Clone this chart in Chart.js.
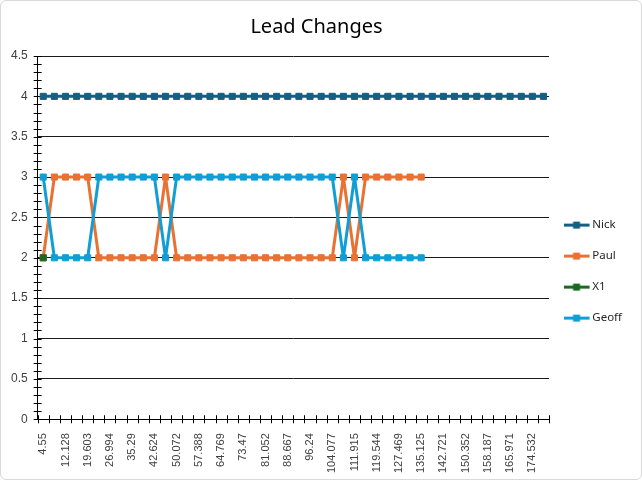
<!DOCTYPE html>
<html>
<head>
<meta charset="utf-8">
<script src="https://cdn.jsdelivr.net/npm/chart.js@4.4.1/dist/chart.umd.min.js"></script>
<style>
html, body { margin: 0; padding: 0; background: #fff; }
#wrap { position: relative; width: 642px; height: 480px; box-sizing: border-box; border: 1px solid #d9d9d9; border-radius: 6px; overflow: hidden; }
</style>
</head>
<body>
<div id="wrap"><canvas id="myChart"></canvas></div>
<script>
// category labels (odd ones are hidden on the axis)
const xLabels = ['4.55', '8.312', '12.128', '15.871', '19.603', '23.301', '26.994', '31.152', '35.29', '38.957',
  '42.624', '46.348', '50.072', '53.73', '57.388', '61.078', '64.769', '69.119', '73.47', '77.261',
  '81.052', '84.859', '88.667', '92.453', '96.24', '100.158', '104.077', '107.996', '111.915', '115.729',
  '119.544', '123.506', '127.469', '131.297', '135.125', '138.923', '142.721', '146.536', '150.352', '154.269',
  '158.187', '162.079', '165.971', '170.251', '174.532', '178.81'];

const nick = [4, 4, 4, 4, 4, 4, 4, 4, 4, 4, 4, 4, 4, 4, 4, 4, 4, 4, 4, 4, 4, 4, 4,
  4, 4, 4, 4, 4, 4, 4, 4, 4, 4, 4, 4, 4, 4, 4, 4, 4, 4, 4, 4, 4, 4, 4];
const paul = [2, 3, 3, 3, 3, 2, 2, 2, 2, 2, 2, 3, 2, 2, 2, 2, 2, 2, 2, 2, 2, 2, 2,
  2, 2, 2, 2, 3, 2, 3, 3, 3, 3, 3, 3];
const x1 = [2];
const geoff = [3, 2, 2, 2, 2, 3, 3, 3, 3, 3, 3, 2, 3, 3, 3, 3, 3, 3, 3, 3, 3, 3, 3,
  3, 3, 3, 3, 2, 3, 2, 2, 2, 2, 2, 2];

const seriesNames = ['Nick', 'Paul', 'X1', 'Geoff'];
const colors = ['#156082', '#E97132', '#196B24', '#0F9ED5'];

function legendIcon(color) {
  const c = document.createElement('canvas');
  c.width = 28; c.height = 9;
  const g = c.getContext('2d');
  g.fillStyle = color;
  g.fillRect(0, 3, 26, 3);
  g.fillRect(9.5, 1, 7, 7);
  return c;
}

// minor tick marks crossing the axes, like Excel
const axisTicks = {
  id: 'axisTicks',
  beforeDatasetsDraw(chart) {
    const {ctx, chartArea, scales: {y}} = chart;
    ctx.save();
    ctx.strokeStyle = '#000';
    ctx.lineWidth = 1;
    ctx.beginPath();
    for (let v = 0; v <= 45; v++) {
      const py = Math.round(y.getPixelForValue(v / 10)) + 0.5;
      ctx.moveTo(chartArea.left - 4, py);
      ctx.lineTo(chartArea.left + 4, py);
    }
    const n = xLabels.length;
    const step = (chartArea.right - chartArea.left) / n;
    for (let i = 0; i <= n; i++) {
      const px = Math.round(chartArea.left + i * step) + 0.5;
      ctx.moveTo(px, chartArea.bottom - 4);
      ctx.lineTo(px, chartArea.bottom + 4);
    }
    ctx.stroke();
    ctx.restore();
  }
};

function makeSet(i, data, order) {
  return {
    label: seriesNames[i],
    data: data,
    order: order,
    borderColor: colors[i],
    backgroundColor: colors[i],
    pointBackgroundColor: colors[i],
    pointBorderColor: colors[i],
    borderWidth: 3,
    borderJoinStyle: 'round',
    borderCapStyle: 'round',
    pointStyle: 'rect',
    pointRadius: 4.3,
    pointBorderWidth: 1,
    tension: 0,
    fill: false
  };
}

const defaultGen = Chart.defaults.plugins.legend.labels.generateLabels;

var ctx = document.getElementById('myChart').getContext('2d');
var chart = new Chart(ctx, {
  type: 'line',
  data: {
    labels: xLabels,
    datasets: [
      makeSet(0, nick, 3),
      makeSet(1, paul, 2),
      makeSet(2, x1, 1),
      makeSet(3, geoff, 0)
    ]
  },
  options: {
    responsive: true,
    maintainAspectRatio: false,
    animation: false,
    layout: { padding: { left: 0, right: 9, top: 0, bottom: 0 } },
    plugins: {
      title: {
        display: true,
        text: 'Lead Changes',
        color: '#000',
        font: { family: 'Noto Sans', size: 20, weight: 'normal' },
        padding: { top: 14, bottom: 17 }
      },
      legend: {
        position: 'right',
        title: { display: true, text: ' ', font: { size: 1 }, padding: { top: 62, bottom: 0 } },
        labels: {
          usePointStyle: true,
          pointStyleWidth: 18,
          padding: 19.5,
          color: '#262626',
          font: { family: 'Noto Sans', size: 11.5 },
          sort: (a, b) => a.datasetIndex - b.datasetIndex,
          generateLabels(chart) {
            return defaultGen(chart).map(item => {
              item.pointStyle = legendIcon(colors[item.datasetIndex]);
              return item;
            });
          }
        }
      },
      tooltip: { enabled: false }
    },
    scales: {
      x: {
        offset: true,
        grid: { display: false },
        border: { color: '#000', width: 1 },
        ticks: {
          autoSkip: false,
          maxRotation: 90,
          minRotation: 90,
          padding: 6,
          color: '#404040',
          font: { family: 'Liberation Sans', size: 11 },
          callback: (v, i) => (i % 2 === 0 ? xLabels[i] : '')
        }
      },
      y: {
        min: 0,
        max: 4.5,
        grid: { color: '#1a1a1a', lineWidth: 1, drawTicks: false },
        border: { color: '#000', width: 1 },
        ticks: {
          stepSize: 0.5,
          padding: 10,
          color: '#404040',
          font: { family: 'Liberation Sans', size: 12 },
          callback: (v) => String(v)
        }
      }
    }
  },
  plugins: [axisTicks]
});
</script>
</body>
</html>
